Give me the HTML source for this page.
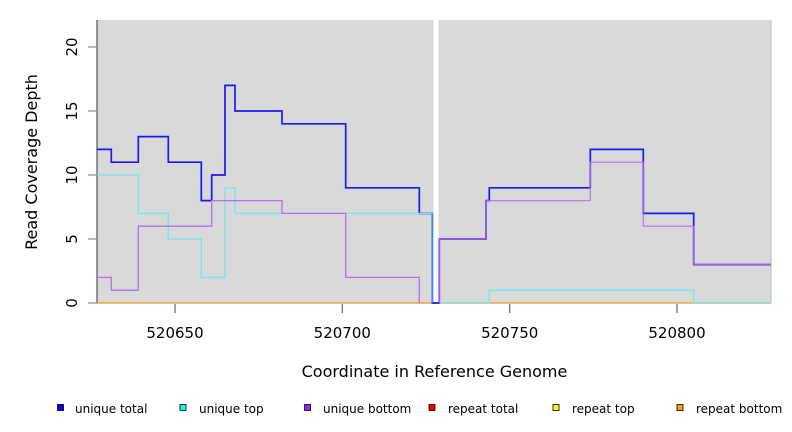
<!DOCTYPE html>
<html><head><meta charset="utf-8"><style>
html,body{margin:0;padding:0;background:#fff;}
svg{display:block;}
text{font-family:"DejaVu Sans","Liberation Sans",sans-serif;fill:#000;}
</style></head><body>
<svg width="792" height="432" viewBox="0 0 792 432" xmlns="http://www.w3.org/2000/svg">
<rect x="0" y="0" width="792" height="432" fill="#fff"/>
<rect x="97" y="20" width="674" height="283" fill="#d9d9d9"/>
<line x1="771" y1="20" x2="771" y2="303" stroke="#bbbbbb" stroke-width="1"/>
<rect x="433.5" y="20" width="5" height="284" fill="#ffffff"/>
<!-- y axis -->
<line x1="97" y1="20" x2="97" y2="303.5" stroke="#555" stroke-width="1.2"/>
<g stroke="#888" stroke-width="1.2">
<line x1="88" y1="303" x2="97" y2="303"/>
<line x1="88" y1="239" x2="97" y2="239"/>
<line x1="88" y1="175" x2="97" y2="175"/>
<line x1="88" y1="111" x2="97" y2="111"/>
<line x1="88" y1="47" x2="97" y2="47"/>
</g>
<g font-size="15" text-anchor="middle">
<text transform="translate(77,303) rotate(-90)">0</text>
<text transform="translate(77,239) rotate(-90)">5</text>
<text transform="translate(77,175) rotate(-90)">10</text>
<text transform="translate(77,111) rotate(-90)">15</text>
<text transform="translate(77,47) rotate(-90)">20</text>
</g>
<text transform="translate(37,162) rotate(-90)" font-size="16" text-anchor="middle">Read Coverage Depth</text>
<!-- x axis ticks -->
<g stroke="#666" stroke-width="1.2">
<line x1="175" y1="304" x2="175" y2="313"/>
<line x1="342.3" y1="304" x2="342.3" y2="313"/>
<line x1="509.7" y1="304" x2="509.7" y2="313"/>
<line x1="677" y1="304" x2="677" y2="313"/>
</g>
<g font-size="15" text-anchor="middle">
<text x="175" y="338">520650</text>
<text x="342.3" y="338">520700</text>
<text x="509.7" y="338">520750</text>
<text x="677" y="338">520800</text>
</g>
<text x="434.5" y="377" font-size="16" text-anchor="middle">Coordinate in Reference Genome</text>
<!-- series -->
<line x1="97" y1="303" x2="771" y2="303" stroke="#f5a030" stroke-width="1.5"/>
<path d="M97,149.4 H111.3 V162.2 H138.3 V136.6 H168.3 V162.2 H201.3 V200.6 H211.7 V175 H225 V85.4 H235 V111 H282 V123.8 H345.7 V187.8 H419.3 V213.4 H432.3 V303 H439.3 V239 H486 V200.6 H489.3 V187.8 H590.3 V149.4 H643.3 V213.4 H693.7 V264.6 H771" fill="none" stroke="#1a1af0" stroke-width="1.7"/>
<path d="M97,175 H138.3 V213.4 H168.3 V239 H201.3 V277.4 H225 V187.8 H235 V213.4 H432.3 V303" fill="none" stroke="#6ee6ee" stroke-width="1.3"/>
<path d="M439.3,303 H489.3 V290.2 H693.7 V303 H771" fill="none" stroke="#6ee6ee" stroke-width="1.3"/>
<path d="M97,277.4 H111.3 V290.2 H138.3 V226.2 H211.7 V200.6 H282 V213.4 H345.7 V277.4 H419.3 V303" fill="none" stroke="#b46ee8" stroke-width="1.3"/>
<path d="M439.3,303 V239 H486 V200.6 H590.3 V162.2 H643.3 V226.2 H693.7 V264.6 H771" fill="none" stroke="#b46ee8" stroke-width="1.3" stroke-opacity="0.85"/>
<path d="M432.3,213.4 V303" fill="none" stroke="#2a90f0" stroke-width="1.4"/>
<!-- legend -->
<g stroke="#000" stroke-width="0.8">
<rect x="57.5" y="404.5" width="6" height="6" fill="#0000ff"/>
<rect x="180" y="404.5" width="6" height="6" fill="#00ffff"/>
<rect x="304.5" y="404.5" width="6" height="6" fill="#a020f0"/>
<rect x="429" y="404.5" width="6" height="6" fill="#ff0000"/>
<rect x="553" y="404.5" width="6" height="6" fill="#ffff00"/>
<rect x="677" y="404.5" width="6" height="6" fill="#ffa500"/>
</g>
<g font-size="12">
<text x="75" y="413">unique total</text>
<text x="199" y="413">unique top</text>
<text x="323" y="413">unique bottom</text>
<text x="448" y="413">repeat total</text>
<text x="572" y="413">repeat top</text>
<text x="696" y="413">repeat bottom</text>
</g>
</svg>
</body></html>
